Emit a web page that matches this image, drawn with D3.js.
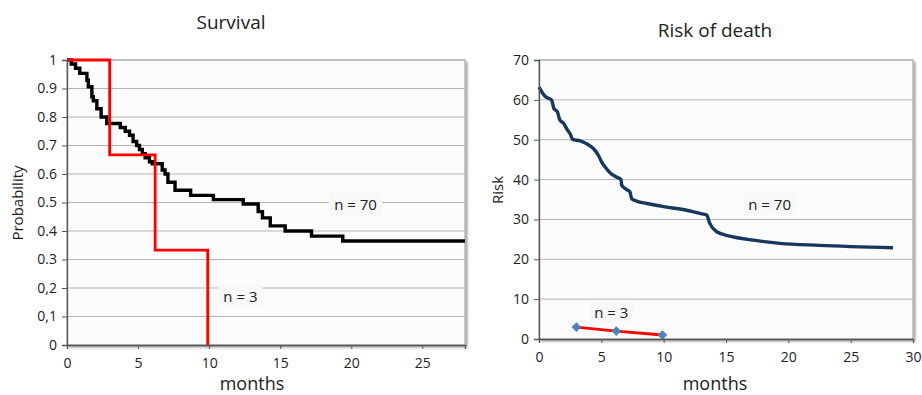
<!DOCTYPE html>
<html>
<head>
<meta charset="utf-8">
<script src="https://cdn.jsdelivr.net/npm/d3@7"></script>
<style>
  body { margin: 0; background: #fff; }
  svg text { font-family: "Open Sans", "Noto Sans", sans-serif; fill: #222; }
</style>
</head>
<body>
<div id="chart"></div>
<script>
// ---- left chart: Kaplan-Meier survival ----
var kmTimes70 = [0, 0.3, 0.6, 0.9, 1.4, 1.5, 1.75, 1.85, 2.1, 2.4, 2.8, 3.75, 4.1, 4.4, 4.65, 4.9, 5.1, 5.3, 5.5, 5.8, 6.0,
                 6.7, 6.9, 7.1, 7.6, 8.7, 10.3, 12.4, 13.45, 13.75, 14.3, 15.35, 17.2, 19.4];
var kmSurv70  = [1, 0.986, 0.971, 0.953, 0.929, 0.906, 0.871, 0.857, 0.829, 0.8, 0.777, 0.763, 0.75, 0.736, 0.714, 0.7, 0.686, 0.671, 0.657, 0.643, 0.636,
                 0.614, 0.6, 0.571, 0.543, 0.525, 0.51, 0.495, 0.468, 0.446, 0.418, 0.4, 0.382, 0.365];
var kmEnd70 = 28;
var kmTimes3 = [0, 3.0, 6.2, 9.9];
var kmSurv3  = [1, 0.667, 0.333, 0];
var survTicks = [0, 0.1, 0.2, 0.3, 0.4, 0.5, 0.6, 0.7, 0.8, 0.9, 1];
var survTickLabels = ["0", "0,1", "0,2", "0.3", "0.4", "0.5", "0.6", "0.7", "0.8", "0.9", "1"];
var monthTicksL = [0, 5, 10, 15, 20, 25];

// ---- right chart: risk of death ----
var riskMonths70 = [0, 0.48, 1.0, 1.2, 1.47, 1.68, 1.95, 2.27, 2.49, 2.7, 3.29, 3.82, 4.36, 4.76, 5.03, 5.29, 5.7, 6.17, 6.58,
                    6.63, 7.03, 7.3, 7.43, 7.83, 8.64, 10.24, 11.84, 12.9, 13.45, 13.7, 14.25, 15.3, 17.2, 19.3, 22.5, 28.4];
var riskValues70 = [63.2, 60.9, 60.0, 57.8, 57.0, 54.9, 54.2, 52.5, 51.5, 50.1, 49.7, 49.0, 47.8, 46.1, 44.4, 43.2, 41.7, 40.7, 40.0,
                    38.6, 37.5, 36.9, 35.2, 34.6, 34.0, 33.1, 32.3, 31.5, 31.1, 29.0, 26.9, 25.8, 24.8, 24.0, 23.5, 22.9];
var riskMonths3 = [3.0, 6.2, 9.9];
var riskValues3 = [3, 2, 1];
var riskTicks = [0, 10, 20, 30, 40, 50, 60, 70];
var monthTicksR = [0, 5, 10, 15, 20, 25, 30];

var svg = d3.select("#chart").append("svg")
  .attr("width", 922).attr("height", 395);

var defs = svg.append("defs");
var f = defs.append("filter").attr("id", "shadow").attr("x", "-5%").attr("y", "-5%").attr("width", "115%").attr("height", "115%");
f.append("feDropShadow").attr("dx", 2).attr("dy", 2).attr("stdDeviation", 1.2).attr("flood-color", "#000").attr("flood-opacity", 0.35);

function frame(x, y) {
  var g = svg.append("g");
  var x0 = x.range()[0], x1 = x.range()[1], y0 = y.range()[0], y1 = y.range()[1];
  g.append("rect")
    .attr("x", x0).attr("y", y1).attr("width", x1 - x0).attr("height", y0 - y1)
    .attr("fill", "#fbfcfb").attr("stroke", "#a8a8a8").attr("stroke-width", 1.2)
    .attr("filter", "url(#shadow)");
  return g;
}

function grid(g, x, y, ticks) {
  g.selectAll("line.grid").data(ticks.slice(1)).enter().append("line")
    .attr("class", "grid")
    .attr("x1", x.range()[0]).attr("x2", x.range()[1])
    .attr("y1", function(d) { return y(d); }).attr("y2", function(d) { return y(d); })
    .attr("stroke", "#b4b4b4").attr("stroke-width", 1);
}

function axes(x, y, yTicks, yFmt, xTicks) {
  var ax = svg.append("g").attr("transform", "translate(" + x.range()[0] + ",0)")
    .call(d3.axisLeft(y).tickValues(yTicks).tickSize(5).tickPadding(5).tickFormat(yFmt));
  ax.select(".domain").attr("stroke", "#555").attr("stroke-width", 1.3);
  ax.selectAll(".tick line").attr("stroke", "#555");
  ax.selectAll("text").style("font-size", "14px").attr("fill", "#222");

  var bx = svg.append("g").attr("transform", "translate(0," + y.range()[0] + ")")
    .call(d3.axisBottom(x).tickValues(xTicks).tickSize(4).tickPadding(9));
  bx.select(".domain").attr("stroke", "#555").attr("stroke-width", 1.3);
  bx.selectAll(".tick line").attr("stroke", "#555");
  bx.selectAll("text").style("font-size", "14px").attr("fill", "#222");
}

function label(txt, x, y) {
  var t = svg.append("text").attr("x", x).attr("y", y)
    .attr("text-anchor", "middle").style("font-size", "15px").text(txt);
  var bb = t.node().getBBox();
  svg.insert("rect", function() { return t.node(); })
    .attr("x", bb.x - 5).attr("y", bb.y - 1).attr("width", bb.width + 10).attr("height", bb.height + 2)
    .attr("fill", "#f7f8f7");
}

// ---------------- left ----------------
var xL = d3.scaleLinear().domain([0, 28]).range([67, 465]);
var yL = d3.scaleLinear().domain([0, 1]).range([345, 60]);
var gL = frame(xL, yL);
grid(gL, xL, yL, survTicks);

var step = d3.line().curve(d3.curveStepAfter)
  .x(function(d) { return xL(d[0]); }).y(function(d) { return yL(d[1]); });

var km70 = kmTimes70.map(function(t, i) { return [t, kmSurv70[i]]; });
km70.push([kmEnd70, kmSurv70[kmSurv70.length - 1]]);
var km3 = kmTimes3.map(function(t, i) { return [t, kmSurv3[i]]; });

svg.append("path").datum(km70).attr("d", step)
  .attr("fill", "none").attr("stroke", "#000").attr("stroke-width", 3.4);
svg.append("path").datum(km3).attr("d", step)
  .attr("fill", "none").attr("stroke", "#ff0000").attr("stroke-width", 2.8);

axes(xL, yL, survTicks, function(d, i) { return survTickLabels[i]; }, monthTicksL);

svg.append("text").attr("x", 231).attr("y", 29).attr("text-anchor", "middle")
  .style("font-size", "19px").text("Survival");
svg.append("text").attr("transform", "translate(23,203) rotate(-90)")
  .attr("text-anchor", "middle").style("font-size", "15px").text("Probability");
svg.append("text").attr("x", 252).attr("y", 390).attr("text-anchor", "middle")
  .style("font-size", "18px").text("months");
label("n = 70", xL(20.3), yL(0.49) + 5);
label("n = 3", xL(12.2), yL(0.17) + 5);

// ---------------- right ----------------
var xR = d3.scaleLinear().domain([0, 30]).range([539, 913]);
var yR = d3.scaleLinear().domain([0, 70]).range([339, 60]);
var gR = frame(xR, yR);
grid(gR, xR, yR, riskTicks);

var curve = d3.line().curve(d3.curveMonotoneX)
  .x(function(d) { return xR(d[0]); }).y(function(d) { return yR(d[1]); });

var r70 = riskMonths70.map(function(t, i) { return [t, riskValues70[i]]; });
var r3 = riskMonths3.map(function(t, i) { return [t, riskValues3[i]]; });

label("n = 70", xR(18.5), yR(33.7) + 5);
label("n = 3", xR(5.8), yR(6.6) + 5);

svg.append("path").datum(r70).attr("d", curve)
  .attr("fill", "none").attr("stroke", "#17375e").attr("stroke-width", 3.4);
svg.append("path").datum(r3).attr("d", d3.line().x(function(d) { return xR(d[0]); }).y(function(d) { return yR(d[1]); }))
  .attr("fill", "none").attr("stroke", "#ff0000").attr("stroke-width", 2.8);
svg.selectAll("path.mk").data(r3).enter().append("path")
  .attr("class", "mk")
  .attr("d", d3.symbol().type(d3.symbolDiamond2).size(60))
  .attr("transform", function(d) { return "translate(" + xR(d[0]) + "," + yR(d[1]) + ")"; })
  .attr("fill", "#4f81bd");

axes(xR, yR, riskTicks, d3.format("d"), monthTicksR);

svg.append("text").attr("x", 715).attr("y", 37).attr("text-anchor", "middle")
  .style("font-size", "19px").text("Risk of death");
svg.append("text").attr("transform", "translate(503,190) rotate(-90)")
  .attr("text-anchor", "middle").style("font-size", "15px").text("Risk");
svg.append("text").attr("x", 715).attr("y", 390).attr("text-anchor", "middle")
  .style("font-size", "18px").text("months");
</script>
</body>
</html>
